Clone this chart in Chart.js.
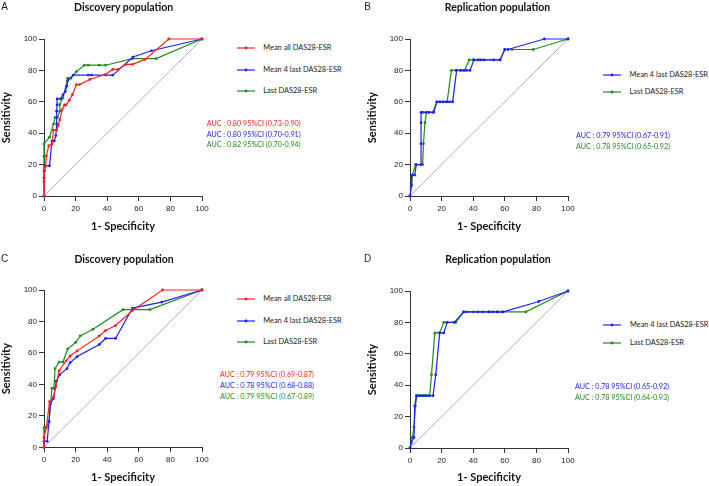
<!DOCTYPE html>
<html><head><meta charset="utf-8">
<script src="https://cdn.jsdelivr.net/npm/chart.js@4.4.0/dist/chart.umd.min.js"></script>
<style>
body{margin:0;width:709px;height:486px;background:#fff;position:relative;overflow:hidden;font-family:Lato,sans-serif}
canvas{position:absolute}
.t{position:absolute;white-space:nowrap;line-height:1}
.title{font-weight:bold;font-size:10.5px;font-family:Lato;transform:translate(-50%,-50%);color:#111}
.letter{font-size:10px;font-family:"Liberation Sans";transform:translate(-50%,-50%);color:#222}
.leg{font-size:7.4px;font-family:Lato;transform:translateY(-50%);color:#1a1a1a}
.auc{font-size:7.2px;font-family:Lato;transform:translateY(-50%)}
svg.sw{position:absolute;overflow:visible}
</style>
</head><body>
<script>
// ---------- Data ----------
const xTickLabels = [0, 20, 40, 60, 80, 100];
const yTickLabels = [0, 20, 40, 60, 80, 100];
const seriesNames = ["Mean all DAS28-ESR", "Mean 4 last DAS28-ESR", "Last DAS28-ESR"];
const panelTitles = ["Discovery population", "Replication population", "Discovery population", "Replication population"];
const panelLetters = ["A", "B", "C", "D"];

// Panel A (Discovery)
const aMeanAllX = [0, 0, 0.4, 1, 1.5, 3, 5, 6, 8, 9, 10, 11.5, 13, 14, 16, 18, 20.5, 22.5, 29, 39, 43.5, 47, 52, 56, 64, 79, 100];
const aMeanAllY = [0, 9.5, 16, 19, 25.5, 32, 33, 42, 42, 45, 48.5, 55, 58, 58, 61, 64.5, 71, 71, 74.2, 77.5, 80.6, 80.6, 83.9, 83.9, 87, 100, 100];
const aMean4X = [0, 0, 0, 0.5, 3.5, 5, 6.5, 7.5, 8, 8, 8.3, 8.3, 10.5, 12, 13.5, 14.5, 15, 18.5, 28, 30, 39, 43.5, 56.3, 68, 100];
const aMean4Y = [0, 11.5, 16, 19.2, 19.2, 35, 35, 38.5, 46, 54, 58, 61.8, 61.8, 64.5, 66.5, 70, 73.5, 77, 77, 77, 77, 77, 88.5, 92.5, 100];
const aLastX = [0, 0, 0, 3.5, 6, 7, 8.5, 10, 10, 12, 15, 17, 20.5, 25.5, 28, 35, 39, 56, 71, 100];
const aLastY = [0, 25, 33.3, 37.5, 45.8, 50, 50, 54, 58.3, 62.5, 75, 75, 79.2, 83.3, 83.3, 83.3, 83.3, 87.5, 87.5, 100];

// Panel B (Replication)
const bMean4X = [0, 0.8, 1, 3, 4, 7, 7, 7, 7, 8, 10, 12, 15, 17, 19, 21, 23, 25, 27, 29.5, 32, 34, 36, 38, 40.5, 43, 45, 47, 53, 57, 60, 62, 85, 100];
const bMean4Y = [0, 6.7, 13.3, 13.3, 20, 20, 33.3, 46.7, 53.3, 53.3, 53.3, 53.3, 53.3, 60, 60, 60, 60, 60, 60, 80, 80, 80, 80, 80, 86.7, 86.7, 86.7, 86.7, 86.7, 86.7, 93.3, 93.3, 100, 100];
const bLastX = [0, 1, 1.5, 3.5, 8, 8.5, 9.5, 10.5, 12, 14.5, 17, 19, 21, 23.5, 26.2, 29, 32, 34.5, 37.5, 40, 44, 57, 60, 64.5, 78, 100];
const bLastY = [0, 6.7, 13.3, 20, 20, 33.3, 46.7, 53.3, 53.3, 53.3, 60, 60, 60, 60, 80, 80, 80, 80, 86.7, 86.7, 86.7, 86.7, 93.3, 93.3, 93.3, 100];

// Panel C (Discovery)
const cMeanAllX = [0, 0, 1.5, 3.5, 6, 7.5, 9.5, 14, 16.5, 21, 35, 39, 45.3, 56, 75, 100];
const cMeanAllY = [0, 6.3, 12.5, 29, 32, 38.5, 48.5, 55, 58, 61.3, 70.8, 74.2, 77.4, 87, 100, 100];
const cMean4X = [0, 0, 2, 3.2, 4, 6, 7.8, 10, 14.5, 16.5, 21, 35, 39, 45.3, 56, 74.5, 100];
const cMean4Y = [0, 3.8, 3.8, 16.3, 27.5, 31, 42, 46.2, 50, 53.8, 57.7, 65.4, 69.2, 69.2, 88.5, 92.3, 100];
const cLastX = [0, 0, 1.5, 3.2, 5, 6.3, 7, 9.5, 12, 15, 20, 23, 31, 50, 67, 100];
const cLastY = [0, 12.5, 13, 16.5, 37.5, 37.5, 50, 54.2, 54.2, 62.5, 66.7, 70.8, 75, 87.5, 87.5, 100];

// Panel D (Replication)
const dMean4X = [0, 0.8, 2.5, 3, 4, 6, 8, 10, 12, 14.6, 16.3, 18.8, 21.4, 23.5, 28, 34, 43, 46, 50, 52.5, 55.5, 59, 81.5, 100];
const dMean4Y = [0, 3.3, 6.7, 26.7, 33.3, 33.3, 33.3, 33.3, 33.3, 33.3, 46.7, 73.3, 73.3, 80, 80, 86.7, 86.7, 86.7, 86.7, 86.7, 86.7, 86.7, 93.3, 100];
const dLastX = [0, 1.5, 2.5, 3.4, 4.4, 6, 7.5, 9, 10.5, 12.5, 13.6, 15.7, 18.8, 21.4, 29, 34, 36, 40, 50, 55, 58, 73.3, 100];
const dLastY = [0, 6.7, 13.3, 26.7, 33.3, 33.3, 33.3, 33.3, 33.3, 33.3, 46.7, 73.3, 73.3, 80, 80, 86.7, 86.7, 86.7, 86.7, 86.7, 86.7, 86.7, 100];

const aucA = ["AUC : 0.80 95%CI (0.73-0.90)", "AUC : 0.80 95%CI (0.70-0.91)", "AUC : 0.82 95%CI (0.70-0.94)"];
const aucB = ["AUC : 0.79 95%CI (0.67-0.91)", "AUC : 0.78 95%CI (0.65-0.92)"];
const aucC = ["AUC : 0.79 95%CI (0.69-0.87)", "AUC : 0.78 95%CI (0.68-0.88)", "AUC : 0.79 95%CI (0.67-0.89)"];
const aucD = ["AUC : 0.78 95%CI (0.65-0.92)", "AUC : 0.78 95%CI (0.64-0.93)"];

// ---------- Styles ----------
const RED = "#ff1f1f", BLUE = "#1f1fff", GREEN = "#1f8a1f";
const AUC_COLORS = {red: "#ff2020", blue: "#2020ff", green: "#1e8a1e"};

function pts(xs, ys) { return xs.map((x, i) => ({x: x, y: ys[i]})); }
function ds(label, xs, ys, color) {
  return {label: label, data: pts(xs, ys), borderColor: color, backgroundColor: color,
    borderWidth: 1.2, pointRadius: 1.4, pointBorderWidth: 0, tension: 0, clip: false};
}
function diag() {
  return {label: "ref", data: pts([0, 100], [0, 100]), borderColor: "#9a9a9a", borderWidth: 0.8,
    pointRadius: 0, tension: 0, clip: false};
}

function addText(cls, txt, x, y, color) {
  const d = document.createElement("div");
  d.className = "t " + cls; d.textContent = txt;
  d.style.left = x + "px"; d.style.top = y + "px";
  if (color) d.style.color = color;
  document.body.appendChild(d);
}
const SVGNS = "http://www.w3.org/2000/svg";
function addSwatch(x, y, color) {
  const s = document.createElementNS(SVGNS, "svg");
  s.setAttribute("class", "sw");
  s.setAttribute("width", "18"); s.setAttribute("height", "4");
  s.style.left = x + "px"; s.style.top = (y - 2) + "px";
  const l = document.createElementNS(SVGNS, "line");
  l.setAttribute("x1", "0"); l.setAttribute("x2", "18"); l.setAttribute("y1", "2"); l.setAttribute("y2", "2");
  l.setAttribute("stroke", color); l.setAttribute("stroke-width", "1.2");
  const c = document.createElementNS(SVGNS, "circle");
  c.setAttribute("cx", "9"); c.setAttribute("cy", "2"); c.setAttribute("r", "1.4"); c.setAttribute("fill", color);
  s.appendChild(l); s.appendChild(c);
  document.body.appendChild(s);
}

const tickFont = {family: "Liberation Sans", size: 8};
const axisTitleFont = {family: "Lato", size: 11, weight: "bold"};

function makePanel(box, datasets) {
  const c = document.createElement("canvas");
  c.width = box.w; c.height = box.h;
  c.style.left = box.left + "px"; c.style.top = box.top + "px";
  c.style.width = box.w + "px"; c.style.height = box.h + "px";
  document.body.appendChild(c);
  new Chart(c, {
    type: "line",
    data: {datasets: datasets.concat([diag()])},
    options: {
      responsive: false, animation: false, devicePixelRatio: 1,
      layout: {padding: {top: box.padTop, right: box.padRight, left: 0, bottom: 0}},
      plugins: {legend: {display: false}, tooltip: {enabled: false}},
      scales: {
        x: {type: "linear", min: 0, max: 100,
          afterBuildTicks: s => { s.ticks = xTickLabels.map(v => ({value: v})); },
          ticks: {font: tickFont, color: "#222", padding: 3, maxRotation: 0, autoSkip: false},
          grid: {display: true, drawOnChartArea: false, tickLength: 5, color: "#333", tickWidth: 1},
          border: {display: true, color: "#333", width: 1},
          title: {display: true, text: "1- Specificity", font: axisTitleFont, color: "#111", padding: {top: 0, bottom: 1.5}},
          afterFit: s => { s.height = box.xH; }
        },
        y: {type: "linear", min: 0, max: 100,
          afterBuildTicks: s => { s.ticks = yTickLabels.map(v => ({value: v})); },
          ticks: {font: tickFont, color: "#222", padding: 2, autoSkip: false},
          grid: {display: true, drawOnChartArea: false, tickLength: 5, color: "#333", tickWidth: 1},
          border: {display: true, color: "#333", width: 1},
          title: {display: true, text: "Sensitivity", font: axisTitleFont, color: "#111", padding: {top: 0, bottom: 0}},
          afterFit: s => { s.width = 44; }
        }
      }
    }
  });
}

// Panel A
makePanel({left: 0, top: 0, w: 215, h: 235, padTop: 39, padRight: 13, xH: 39}, [
  ds(seriesNames[0], aMeanAllX, aMeanAllY, RED),
  ds(seriesNames[1], aMean4X, aMean4Y, BLUE),
  ds(seriesNames[2], aLastX, aLastY, GREEN)
]);
// Panel B
makePanel({left: 366, top: 0, w: 215, h: 235, padTop: 39, padRight: 13, xH: 39}, [
  ds(seriesNames[1], bMean4X, bMean4Y, BLUE),
  ds(seriesNames[2], bLastX, bLastY, GREEN)
]);
// Panel C
makePanel({left: 0, top: 250, w: 215, h: 236, padTop: 40, padRight: 13, xH: 38.7}, [
  ds(seriesNames[0], cMeanAllX, cMeanAllY, RED),
  ds(seriesNames[1], cMean4X, cMean4Y, BLUE),
  ds(seriesNames[2], cLastX, cLastY, GREEN)
]);
// Panel D
makePanel({left: 366, top: 250, w: 215, h: 236, padTop: 41, padRight: 13, xH: 38}, [
  ds(seriesNames[1], dMean4X, dMean4Y, BLUE),
  ds(seriesNames[2], dLastX, dLastY, GREEN)
]);

// Titles and letters
addText("letter", panelLetters[0], 4.5, 7);
addText("title", panelTitles[0], 123.7, 7);
addText("letter", panelLetters[1], 367.5, 7);
addText("title", panelTitles[1], 497.5, 7);
addText("letter", panelLetters[2], 4.5, 258.5);
addText("title", panelTitles[2], 124, 258.5);
addText("letter", panelLetters[3], 367.5, 259.3);
addText("title", panelTitles[3], 498, 259.3);

// Legends
const colorsABC = [RED, BLUE, GREEN];
[48, 70.3, 91.3].forEach((y, i) => { addSwatch(237, y, colorsABC[i]); addText("leg", seriesNames[i], 263.3, y); });
[75, 92].forEach((y, i) => { addSwatch(603, y, colorsABC[i + 1]); addText("leg", seriesNames[i + 1], 629.5, y); });
[299, 320.7, 341.7].forEach((y, i) => { addSwatch(237, y, colorsABC[i]); addText("leg", seriesNames[i], 263.3, y); });
[325, 342.7].forEach((y, i) => { addSwatch(603, y, colorsABC[i + 1]); addText("leg", seriesNames[i + 1], 630, y); });

// AUC annotations
const aucCols = [AUC_COLORS.red, AUC_COLORS.blue, AUC_COLORS.green];
[124, 134.7, 145.3].forEach((y, i) => addText("auc", aucA[i], 206.7, y, aucCols[i]));
[135.8, 146.7].forEach((y, i) => addText("auc", aucB[i], 576, y, aucCols[i + 1]));
[375, 386, 396.7].forEach((y, i) => addText("auc", aucC[i], 220, y, aucCols[i]));
[386.7, 397.7].forEach((y, i) => addText("auc", aucD[i], 575, y, aucCols[i + 1]));
</script>
</body></html>
